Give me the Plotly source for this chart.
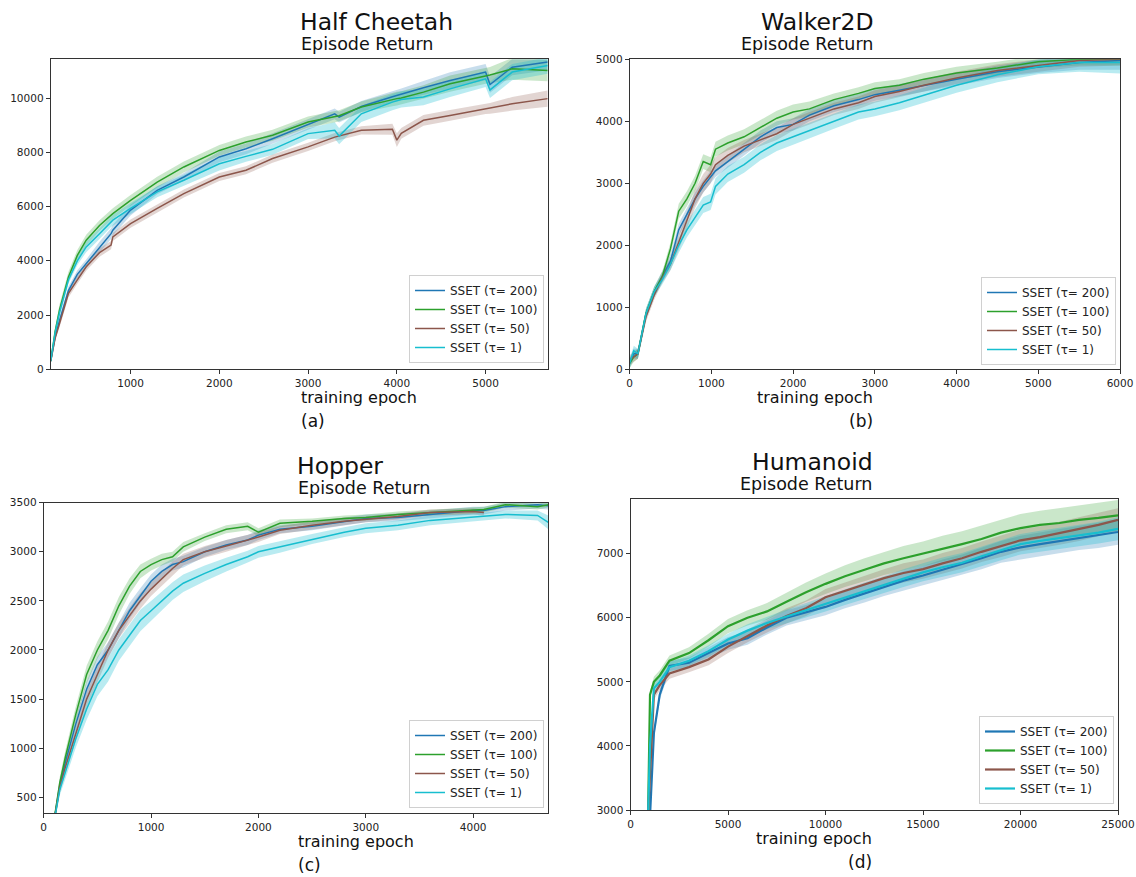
import plotly.graph_objects as go

W, H = 1136, 877

COLORS = {"200": "#1f77b4", "100": "#2ca02c", "50": "#8c564b", "1": "#17becf"}
FILLS = {"200": "rgba(31,119,180,0.25)", "100": "rgba(44,160,44,0.25)",
         "50": "rgba(140,86,75,0.25)", "1": "rgba(23,190,207,0.3)"}
TAUS = ["200", "100", "50", "1"]

# --- Half Cheetah ---
hc_x = [100, 150, 200, 300, 400, 500, 650, 780, 800, 1000, 1300, 1600, 2000, 2300, 2600,
        3000, 3300, 3350, 3600, 3950, 4000, 4050, 4300, 4600, 5000, 5050, 5300, 5700]
hc_tau200 = [300, 1200, 1800, 2900, 3500, 3900, 4500, 5000, 5130, 5870, 6600, 7090, 7830, 8130, 8500,
             9030, 9420, 9300, 9690, 10050, 10100, 10150, 10380, 10650, 10960, 10500, 11140, 11330]
hc_tau100 = [300, 1400, 2200, 3400, 4200, 4760, 5300, 5700, 5740, 6230, 6900, 7460, 8070, 8380, 8630,
             9120, 9300, 9350, 9670, 9950, 9980, 10000, 10220, 10530, 10830, 10850, 11080, 11020]
hc_tau50 = [300, 1150, 1700, 2800, 3300, 3780, 4300, 4580, 4880, 5370, 5930, 6480, 7090, 7340, 7770,
            8200, 8560, 8600, 8810, 8850, 8450, 8700, 9180, 9360, 9610, 9620, 9790, 9980]
hc_tau1 = [300, 1350, 2100, 3300, 4000, 4515, 5000, 5450, 5500, 5930, 6540, 6970, 7580, 7850, 8110,
           8690, 8810, 8600, 9420, 9850, 9910, 9950, 10040, 10340, 10710, 10300, 10960, 11200]
hc_sd200 = [50, 100, 150, 150, 150, 150, 200, 200, 200, 200, 150, 150, 200, 200, 200,
            200, 200, 200, 200, 200, 200, 200, 250, 300, 300, 300, 300, 300]
hc_sd100 = [50, 150, 200, 200, 200, 200, 200, 200, 200, 200, 200, 200, 200, 200, 200,
            200, 200, 200, 200, 250, 250, 250, 250, 300, 300, 300, 400, 400]
hc_sd50 = [50, 100, 150, 150, 150, 150, 150, 150, 150, 150, 150, 150, 150, 150, 150,
           150, 150, 150, 150, 200, 250, 200, 200, 200, 200, 200, 250, 300]
hc_sd1 = [50, 100, 150, 150, 150, 200, 200, 200, 200, 200, 200, 200, 250, 200, 200,
          200, 300, 300, 300, 300, 300, 300, 300, 300, 300, 300, 300, 300]

# --- Walker2D ---
wk_x = [0, 50, 100, 150, 200, 300, 400, 500, 600, 700, 800, 900, 990, 1050, 1200, 1400,
        1600, 1800, 2000, 2200, 2500, 2800, 3000, 3300, 3600, 4000, 4500, 5000, 5500, 6000]
wk_tau200 = [100, 250, 250, 600, 900, 1250, 1500, 1750, 2250, 2500, 2750, 2950, 3100, 3200, 3350, 3550,
             3750, 3900, 3950, 4100, 4250, 4350, 4430, 4500, 4580, 4680, 4800, 4880, 4950, 4980]
wk_tau100 = [100, 200, 250, 600, 900, 1250, 1500, 1950, 2550, 2750, 3000, 3350, 3300, 3550, 3650, 3750,
             3900, 4050, 4150, 4200, 4350, 4450, 4530, 4580, 4680, 4780, 4860, 4960, 5000, 5000]
wk_tau50 = [150, 200, 250, 550, 850, 1200, 1480, 1700, 2050, 2400, 2750, 3000, 3150, 3300, 3450, 3600,
            3700, 3800, 3950, 4050, 4200, 4300, 4400, 4480, 4580, 4700, 4820, 4900, 4980, 5000]
wk_tau1 = [100, 300, 250, 600, 900, 1250, 1450, 1700, 2000, 2250, 2450, 2650, 2700, 2950, 3150, 3300,
           3500, 3650, 3750, 3850, 4000, 4150, 4200, 4300, 4420, 4580, 4750, 4880, 4950, 4950]
wk_sd200 = [80, 80, 80, 80, 80, 80, 80, 100, 100, 100, 100, 100, 100, 100, 100, 100,
            100, 100, 100, 100, 100, 100, 100, 100, 100, 100, 100, 100, 120, 150]
wk_sd100 = [80, 80, 80, 80, 80, 80, 80, 100, 120, 120, 120, 120, 120, 120, 120, 120,
            120, 120, 120, 120, 100, 100, 100, 100, 100, 100, 100, 100, 100, 100]
wk_sd50 = [80, 80, 80, 80, 80, 80, 80, 100, 120, 120, 150, 150, 150, 120, 120, 100,
           100, 100, 100, 100, 100, 100, 100, 100, 100, 100, 100, 100, 100, 100]
wk_sd1 = [80, 80, 80, 80, 80, 80, 80, 100, 120, 120, 130, 130, 130, 130, 130, 130,
          130, 130, 130, 130, 120, 120, 120, 120, 120, 120, 120, 120, 150, 180]

# --- Hopper ---
hp_x = [80, 150, 200, 300, 400, 500, 600, 700, 800, 900, 1000, 1100, 1200, 1300, 1500,
        1700, 1900, 2000, 2200, 2500, 2800, 3000, 3300, 3600, 4000, 4100, 4300, 4600, 4700]
hp_tau200 = [150, 620, 850, 1250, 1600, 1850, 2000, 2200, 2400, 2550, 2700, 2800, 2870, 2900, 3000,
             3070, 3120, 3170, 3230, 3260, 3310, 3340, 3350, 3380, 3420, 3420, 3460, 3480, 3470]
hp_tau100 = [150, 650, 900, 1350, 1750, 2000, 2200, 2450, 2650, 2800, 2870, 2920, 2950, 3050, 3150,
             3230, 3260, 3200, 3290, 3310, 3340, 3350, 3380, 3400, 3420, 3430, 3480, 3460, 3480]
hp_tau50 = [150, 600, 800, 1150, 1500, 1750, 2000, 2200, 2350, 2500, 2620, 2730, 2830, 2920, 3000,
            3060, 3120, 3150, 3220, 3270, 3310, 3330, 3360, 3400, 3410, 3400, None, None, None]
hp_tau1 = [150, 580, 750, 1100, 1400, 1650, 1800, 2000, 2150, 2300, 2400, 2500, 2600, 2680, 2780,
           2870, 2950, 3000, 3050, 3130, 3200, 3240, 3270, 3320, 3350, 3360, 3380, 3370, 3300]
hp_sd200 = [40, 60, 60, 70, 80, 80, 80, 80, 80, 80, 70, 70, 60, 60, 50,
            50, 50, 50, 40, 40, 40, 40, 40, 40, 40, 40, 40, 40, 40]
hp_sd100 = [40, 60, 70, 80, 90, 90, 90, 90, 80, 70, 60, 60, 50, 50, 40,
            40, 40, 40, 40, 30, 30, 30, 30, 30, 30, 30, 30, 30, 30]
hp_sd50 = [40, 60, 60, 70, 80, 80, 80, 80, 80, 80, 70, 70, 70, 60, 60,
           60, 50, 50, 40, 40, 40, 30, 30, 30, 30, 30, None, None, None]
hp_sd1 = [40, 60, 70, 90, 110, 120, 120, 110, 110, 110, 100, 100, 90, 90, 80,
          70, 60, 60, 60, 50, 50, 50, 50, 50, 40, 40, 40, 50, 70]

# --- Humanoid ---
hm_x = [900, 1000, 1200, 1500, 2000, 3000, 4000, 5000, 6000, 7000, 8000, 9000, 10000, 11000,
        12000, 13000, 14000, 15000, 16000, 17000, 18000, 19000, 20000, 21000, 22000, 23000, 24000, 25000]
hm_tau200 = [2800, 2900, 4200, 4800, 5250, 5300, 5450, 5600, 5680, 5850, 6000, 6080, 6170, 6280,
             6380, 6480, 6580, 6660, 6750, 6830, 6930, 7030, 7100, 7150, 7200, 7250, 7290, 7340]
hm_tau100 = [2900, 4800, 5000, 5100, 5330, 5450, 5650, 5870, 6000, 6100, 6250, 6400, 6530, 6650,
             6750, 6850, 6930, 7000, 7080, 7150, 7230, 7330, 7400, 7450, 7480, 7530, 7560, 7600]
hm_tau50 = [2900, 3500, 4800, 4950, 5130, 5230, 5350, 5550, 5720, 5880, 6030, 6150, 6320, 6420,
            6520, 6620, 6700, 6760, 6850, 6930, 7030, 7120, 7210, 7260, 7320, 7380, 7450, 7530]
hm_tau1 = [2900, 4000, 4900, 5000, 5230, 5330, 5480, 5660, 5800, 5920, 6020, 6120, 6220, 6320,
           6420, 6520, 6620, 6710, 6790, 6860, 6960, 7060, 7150, 7200, 7240, 7290, 7330, 7390]
hm_sd200 = [50, 50, 80, 80, 80, 80, 90, 100, 100, 110, 120, 120, 130, 130,
            140, 140, 150, 150, 160, 160, 170, 170, 180, 180, 190, 190, 200, 200]
hm_sd100 = [50, 50, 80, 80, 80, 90, 100, 110, 120, 130, 140, 150, 160, 170,
            180, 180, 190, 190, 200, 200, 210, 210, 220, 220, 230, 230, 240, 240]
hm_sd50 = [50, 50, 80, 80, 80, 80, 90, 100, 100, 110, 120, 120, 130, 130,
           140, 140, 150, 150, 160, 160, 160, 170, 170, 170, 180, 180, 180, 180]
hm_sd1 = [50, 50, 80, 80, 80, 80, 90, 90, 100, 100, 110, 110, 120, 120,
          130, 130, 140, 140, 150, 150, 150, 160, 160, 160, 170, 170, 170, 180]

panels = [
    dict(name="Half Cheetah", tag="(a)", x=hc_x,
         means={"200": hc_tau200, "100": hc_tau100, "50": hc_tau50, "1": hc_tau1},
         sds={"200": hc_sd200, "100": hc_sd100, "50": hc_sd50, "1": hc_sd1},
         xr=[100, 5700], yr=[0, 11430], xt=[1000, 2000, 3000, 4000, 5000],
         yt=[0, 2000, 4000, 6000, 8000, 10000],
         px=(50.7, 547.7), py=(59.3, 369.3), leg=(544, 363), lw=1.5),
    dict(name="Walker2D", tag="(b)", x=wk_x,
         means={"200": wk_tau200, "100": wk_tau100, "50": wk_tau50, "1": wk_tau1},
         sds={"200": wk_sd200, "100": wk_sd100, "50": wk_sd50, "1": wk_sd1},
         xr=[0, 6000], yr=[0, 5000], xt=[0, 1000, 2000, 3000, 4000, 5000, 6000],
         yt=[0, 1000, 2000, 3000, 4000, 5000],
         px=(629.7, 1120), py=(59.3, 369.3), leg=(1116, 365), lw=1.5),
    dict(name="Hopper", tag="(c)", x=hp_x,
         means={"200": hp_tau200, "100": hp_tau100, "50": hp_tau50, "1": hp_tau1},
         sds={"200": hp_sd200, "100": hp_sd100, "50": hp_sd50, "1": hp_sd1},
         xr=[0, 4700], yr=[340, 3500], xt=[0, 1000, 2000, 3000, 4000],
         yt=[500, 1000, 1500, 2000, 2500, 3000, 3500],
         px=(43.7, 548.3), py=(502.7, 813), leg=(544, 808), lw=1.5),
    dict(name="Humanoid", tag="(d)", x=hm_x,
         means={"200": hm_tau200, "100": hm_tau100, "50": hm_tau50, "1": hm_tau1},
         sds={"200": hm_sd200, "100": hm_sd100, "50": hm_sd50, "1": hm_sd1},
         xr=[0, 25000], yr=[3000, 7850], xt=[0, 5000, 10000, 15000, 20000, 25000],
         yt=[3000, 4000, 5000, 6000, 7000],
         px=(630.5, 1118), py=(499.3, 810), leg=(1114, 804), lw=2.2),
]


def fx(px):
    return px / W


def fy(py):
    return 1 - py / H


FONT = "DejaVu Sans"
fig = go.Figure()
layout = dict(width=W, height=H, autosize=False, margin=dict(l=0, r=0, t=0, b=0, pad=0),
              paper_bgcolor="white", plot_bgcolor="white", font=dict(family=FONT, color="#222"))
annotations = []

for i, p in enumerate(panels):
    n = "" if i == 0 else str(i + 1)
    xa, ya = "x" + n, "y" + n
    legname = "legend" + n
    x0, x1 = p["px"]
    y0, y1 = p["py"]

    # shaded bands first, then lines on top
    for tau in TAUS:
        pts = [(xv, m, s) for xv, m, s in zip(p["x"], p["means"][tau], p["sds"][tau]) if m is not None]
        xs = [a for a, _, _ in pts]
        up = [m + s for _, m, s in pts]
        lo = [m - s for _, m, s in pts]
        fig.add_trace(go.Scatter(x=xs + xs[::-1], y=up + lo[::-1], fill="toself",
                                 fillcolor=FILLS[tau], line=dict(width=0), mode="lines",
                                 hoverinfo="skip", showlegend=False, xaxis=xa, yaxis=ya))
    for tau in TAUS:
        fig.add_trace(go.Scatter(x=p["x"], y=p["means"][tau], mode="lines",
                                 line=dict(color=COLORS[tau], width=p["lw"]),
                                 name=f"SSET (\u03c4= {tau})", legend=legname,
                                 xaxis=xa, yaxis=ya, connectgaps=False))

    axis_common = dict(showline=True, mirror=True, linecolor="#333", linewidth=1,
                       ticks="outside", ticklen=4, tickcolor="#333", showgrid=False,
                       zeroline=False, automargin=False, tickformat="d",
                       tickfont=dict(size=10.5, family=FONT, color="#222"))
    layout["xaxis" + n] = dict(domain=[fx(x0), fx(x1)], range=p["xr"], tickvals=p["xt"],
                               anchor=ya, **axis_common)
    layout["yaxis" + n] = dict(domain=[fy(y1), fy(y0)], range=p["yr"], tickvals=p["yt"],
                               anchor=xa, **axis_common)
    layout[legname] = dict(x=fx(p["leg"][0]), y=fy(p["leg"][1]), xanchor="right",
                           yanchor="bottom", bgcolor="rgba(255,255,255,0.85)",
                           bordercolor="#d0d0d0", borderwidth=1, itemwidth=30,
                           font=dict(size=12, family=FONT, color="#222"), tracegroupgap=0)

    cx = fx((x0 + x1) / 2)
    annotations += [
        dict(text=p["name"], x=cx, y=fy(y0 - 37), xref="paper", yref="paper",
             showarrow=False, yanchor="middle", borderpad=0,
             font=dict(size=23.5, family=FONT, color="#111")),
        dict(text="Episode Return", x=cx, y=fy(y0 - 15), xref="paper", yref="paper",
             showarrow=False, yanchor="middle", font=dict(size=17.5, family=FONT, color="#111")),
        dict(text="training epoch", x=cx, y=fy(y1 + 28.5), xref="paper", yref="paper",
             showarrow=False, yanchor="middle", font=dict(size=16, family=FONT, color="#111")),
        dict(text=p["tag"], x=cx, y=fy(y1 + 52), xref="paper", yref="paper",
             showarrow=False, yanchor="middle", font=dict(size=17, family=FONT, color="#111")),
    ]

layout["annotations"] = annotations
fig.update_layout(**layout)
# drop the default 8px page margin so the figure fills the window exactly
fig.write_html("out.html", config={"displayModeBar": False},
               post_script="document.body.style.margin='0px';")
